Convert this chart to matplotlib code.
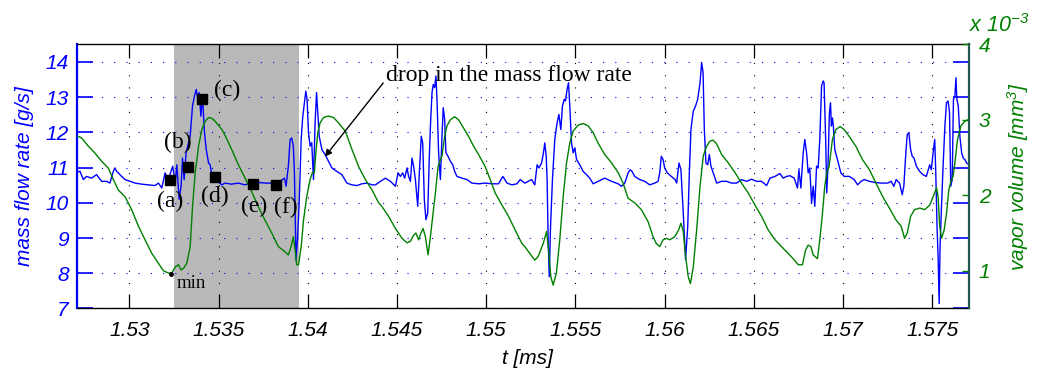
import matplotlib
matplotlib.use("Agg")
import matplotlib.pyplot as plt
import numpy as np

# ---------------- data ----------------
t_flow = [
    1.52704, 1.52723, 1.52742, 1.52760, 1.52788, 1.52816, 1.52845, 1.52873, 1.52891, 1.52910,
    1.52919, 1.52929, 1.52938, 1.52957, 1.52976, 1.53004, 1.53032, 1.53069, 1.53107, 1.53144,
    1.53163, 1.53182, 1.53200, 1.53219, 1.53243, 1.53257, 1.53266, 1.53279, 1.53290, 1.53298,
    1.53307, 1.53318, 1.53341, 1.53354, 1.53365, 1.53375, 1.53384, 1.53391, 1.53401, 1.53410,
    1.53421, 1.53431, 1.53444, 1.53453, 1.53463, 1.53481, 1.53519,
    1.53535, 1.53573, 1.53610, 1.53648, 1.53676, 1.53723, 1.53760, 1.53798, 1.53845, 1.53869,
    1.53878, 1.53891, 1.53901, 1.53910, 1.53919, 1.53925, 1.53929, 1.53934, 1.53942, 1.53951,
    1.53963, 1.53972, 1.53981, 1.53989, 1.53996, 1.54004, 1.54013, 1.54022, 1.54032, 1.54041,
    1.54049, 1.54056, 1.54064, 1.54079, 1.54097, 1.54116, 1.54135, 1.54163, 1.54191, 1.54219,
    1.54247, 1.54275, 1.54303, 1.54332, 1.54360,
    1.54379, 1.54407, 1.54435, 1.54463, 1.54491, 1.54506, 1.54519, 1.54532, 1.54543, 1.54556,
    1.54565, 1.54575, 1.54584, 1.54593, 1.54603, 1.54616, 1.54625, 1.54636, 1.54644, 1.54653,
    1.54662, 1.54672, 1.54681, 1.54688, 1.54696, 1.54703, 1.54711, 1.54718, 1.54724, 1.54733,
    1.54743, 1.54752, 1.54759, 1.54767, 1.54774, 1.54786, 1.54799, 1.54812, 1.54823, 1.54836,
    1.54864, 1.54892, 1.54920, 1.54957, 1.54994, 1.55032, 1.55069, 1.55093, 1.55116, 1.55144,
    1.55172, 1.55190,
    1.55216, 1.55235, 1.55254, 1.55272, 1.55285, 1.55295, 1.55310, 1.55319, 1.55328, 1.55336,
    1.55341, 1.55347, 1.55353, 1.55360, 1.55371, 1.55384, 1.55397, 1.55407, 1.55418, 1.55427,
    1.55437, 1.55444, 1.55453, 1.55461, 1.55468, 1.55478, 1.55487, 1.55496, 1.55506, 1.55524,
    1.55543, 1.55562, 1.55580, 1.55599, 1.55627, 1.55664, 1.55702, 1.55739, 1.55758, 1.55776,
    1.55795, 1.55806, 1.55817, 1.55832, 1.55860, 1.55888, 1.55916, 1.55944, 1.55963, 1.55972,
    1.55981, 1.55991, 1.56000, 1.56015, 1.56037,
    1.56058, 1.56067, 1.56080, 1.56091, 1.56104, 1.56117, 1.56129, 1.56138, 1.56147, 1.56160,
    1.56173, 1.56185, 1.56198, 1.56207, 1.56215, 1.56222, 1.56231, 1.56241, 1.56250, 1.56259,
    1.56272, 1.56291, 1.56319, 1.56347, 1.56375, 1.56403, 1.56431, 1.56459, 1.56487, 1.56515,
    1.56543, 1.56571, 1.56590, 1.56618, 1.56646, 1.56664, 1.56683, 1.56702, 1.56726, 1.56744,
    1.56752, 1.56763, 1.56776, 1.56785, 1.56795, 1.56804, 1.56813, 1.56823, 1.56832, 1.56841,
    1.56851, 1.56860, 1.56869, 1.56879, 1.56888,
    1.56893, 1.56902, 1.56908, 1.56915, 1.56923, 1.56929, 1.56934, 1.56940, 1.56945, 1.56953,
    1.56968, 1.56987, 1.57006, 1.57034, 1.57062, 1.57081, 1.57100, 1.57118, 1.57147, 1.57175,
    1.57212, 1.57250, 1.57269, 1.57284, 1.57297, 1.57316, 1.57331, 1.57340, 1.57350, 1.57359,
    1.57368, 1.57378, 1.57387, 1.57397, 1.57410, 1.57429, 1.57447, 1.57466, 1.57485, 1.57494,
    1.57504, 1.57513, 1.57519, 1.57526, 1.57532, 1.57538, 1.57543, 1.57551, 1.57560, 1.57570,
    1.57579, 1.57588, 1.57596, 1.57603, 1.57611, 1.57618, 1.57626, 1.57632, 1.57637, 1.57645,
    1.57654, 1.57664, 1.57673, 1.57682, 1.57692, 1.57707,
]
mass_flow = [
    10.85, 10.90, 10.66, 10.75, 10.70, 10.80, 10.61, 10.61, 10.56, 10.89,
    10.99, 10.89, 10.85, 10.75, 10.66, 10.61, 10.56, 10.53, 10.51, 10.49,
    10.56, 10.42, 10.85, 10.66, 11.04, 10.56, 11.08, 10.10, 10.47, 11.27,
    10.66, 11.42, 11.90, 12.75, 13.03, 13.22, 12.94, 13.13, 12.46, 13.03,
    11.99, 11.51, 11.13, 11.08, 10.75, 10.66, 10.51,
    10.56, 10.53, 10.56, 10.51, 10.56, 10.58, 10.56, 10.56, 10.61, 10.70,
    10.47, 11.04, 11.80, 11.84, 11.61, 10.85, 9.71, 8.38, 8.95, 9.90,
    11.80, 12.46, 12.84, 13.17, 12.94, 11.99, 11.61, 11.71, 10.66, 12.27,
    13.13, 12.56, 11.89, 11.51, 11.37, 11.18, 10.99, 10.89, 10.80, 10.56,
    10.51, 10.49, 10.54, 10.56, 10.51,
    10.51, 10.61, 10.70, 10.61, 10.47, 10.85, 10.75, 10.85, 10.70, 10.99,
    10.75, 10.61, 11.27, 11.04, 10.66, 9.90, 10.85, 11.89, 11.70, 10.09,
    9.52, 9.71, 11.32, 12.27, 13.13, 13.36, 13.27, 13.60, 12.94, 11.42,
    10.66, 11.89, 12.70, 12.37, 11.42, 11.32, 11.18, 11.08, 10.89, 10.75,
    10.70, 10.66, 10.56, 10.54, 10.56, 10.54, 10.54, 10.75, 10.56, 10.51,
    10.54, 10.66,
    10.56, 10.61, 10.66, 10.51, 11.08, 10.99, 11.13, 11.37, 11.70, 11.32,
    10.66, 8.95, 7.90, 9.29, 10.66, 11.80, 12.27, 12.51, 12.08, 12.75,
    12.94, 12.89, 13.22, 13.41, 12.75, 11.70, 11.42, 11.56, 11.23, 11.08,
    10.89, 10.80, 10.70, 10.54, 10.61, 10.70, 10.61, 10.54, 10.47, 10.56,
    10.85, 10.94, 10.89, 10.75, 10.66, 10.61, 10.51, 10.56, 10.61, 10.85,
    11.32, 11.23, 10.99, 10.85, 10.75,
    10.66, 10.56, 11.13, 10.94, 9.71, 8.38, 9.33, 10.85, 12.08, 12.60,
    12.75, 12.94, 13.41, 13.98, 13.70, 12.08, 11.13, 11.08, 11.37, 11.04,
    10.85, 10.56, 10.61, 10.61, 10.56, 10.56, 10.66, 10.61, 10.67, 10.61,
    10.61, 10.49, 10.70, 10.75, 10.83, 10.70, 10.75, 10.77, 10.70, 10.42,
    10.94, 10.42, 11.42, 11.80, 11.42, 10.85, 10.99, 9.99, 10.47, 9.90,
    11.04, 10.99, 11.80, 13.32, 13.46,
    13.41, 11.80, 10.28, 11.04, 12.56, 12.84, 12.18, 12.41, 12.18, 11.51,
    11.23, 10.85, 10.75, 10.75, 10.66, 10.51, 10.61, 10.66, 10.61, 10.58,
    10.56, 10.56, 10.61, 10.47, 10.66, 10.56, 10.23, 10.47, 11.32, 11.94,
    11.99, 11.51, 11.32, 11.27, 11.04, 10.89, 10.80, 10.75, 11.08, 10.94,
    11.42, 11.80, 10.85, 9.33, 8.48, 7.14, 8.76, 9.90, 11.04, 12.18,
    12.84, 12.89, 12.56, 10.47, 10.66, 12.94, 13.03, 13.55, 12.94, 12.75,
    11.89, 11.42, 11.27, 11.23, 11.13, 11.08,
]

t_vapor = [
    1.52704, 1.52732, 1.52770, 1.52807, 1.52845, 1.52882, 1.52910, 1.52938, 1.52976, 1.53013,
    1.53051, 1.53088, 1.53126, 1.53163, 1.53191, 1.53219, 1.53238, 1.53257, 1.53275, 1.53290,
    1.53303, 1.53322, 1.53341, 1.53354, 1.53369, 1.53388, 1.53406, 1.53425, 1.53444, 1.53463,
    1.53481, 1.53519,
    1.53535, 1.53573, 1.53610, 1.53648, 1.53685, 1.53723, 1.53760, 1.53798, 1.53835, 1.53863,
    1.53891, 1.53906, 1.53919, 1.53929, 1.53938, 1.53948, 1.53963, 1.53976, 1.53994, 1.54013,
    1.54026, 1.54037, 1.54045, 1.54056, 1.54069, 1.54088, 1.54116, 1.54144, 1.54172, 1.54210,
    1.54247, 1.54285, 1.54322, 1.54360, 1.54397,
    1.54416, 1.54453, 1.54491, 1.54528, 1.54556, 1.54575, 1.54593, 1.54606, 1.54621, 1.54634,
    1.54646, 1.54659, 1.54674, 1.54687, 1.54700, 1.54715, 1.54730, 1.54743, 1.54752, 1.54767,
    1.54780, 1.54799, 1.54823, 1.54845, 1.54873, 1.54901, 1.54929, 1.54957, 1.54994, 1.55022,
    1.55050, 1.55088, 1.55125, 1.55162, 1.55200,
    1.55216, 1.55244, 1.55272, 1.55291, 1.55319, 1.55338, 1.55351, 1.55362, 1.55375, 1.55393,
    1.55412, 1.55431, 1.55450, 1.55468, 1.55487, 1.55515, 1.55543, 1.55571, 1.55599, 1.55627,
    1.55664, 1.55702, 1.55739, 1.55767, 1.55795, 1.55832, 1.55869, 1.55907, 1.55935, 1.55953,
    1.55972, 1.55991, 1.56009, 1.56028, 1.56056, 1.56078,
    1.56091, 1.56104, 1.56117, 1.56132, 1.56144, 1.56160, 1.56179, 1.56198, 1.56216, 1.56235,
    1.56254, 1.56272, 1.56291, 1.56319, 1.56356, 1.56394, 1.56431, 1.56468, 1.56506, 1.56543,
    1.56580, 1.56618, 1.56655, 1.56692, 1.56720, 1.56748, 1.56772, 1.56789, 1.56804, 1.56819,
    1.56832, 1.56856, 1.56869, 1.56884, 1.56897, 1.56908,
    1.56921, 1.56940, 1.56959, 1.56983, 1.57006, 1.57034, 1.57071, 1.57109, 1.57147, 1.57184,
    1.57222, 1.57259, 1.57297, 1.57325, 1.57344, 1.57359, 1.57378, 1.57400, 1.57429, 1.57457,
    1.57485, 1.57504, 1.57523, 1.57532, 1.57541, 1.57551, 1.57566, 1.57579, 1.57592, 1.57603,
    1.57616, 1.57626, 1.57641, 1.57660, 1.57682, 1.57707,
]
# vapor volume in units of 1e-3 mm^3
vapor_volume = [
    2.79, 2.76, 2.65, 2.56, 2.45, 2.36, 2.21, 2.07, 1.98, 1.81,
    1.59, 1.41, 1.23, 1.10, 1.00, 0.97, 0.97, 1.05, 1.08, 1.01,
    1.03, 1.10, 1.32, 1.85, 2.30, 2.65, 2.87, 2.98, 3.03, 3.02,
    2.98, 2.87,
    2.80, 2.61, 2.41, 2.23, 2.05, 1.85, 1.67, 1.50, 1.32, 1.27,
    1.21, 1.32, 1.45, 1.27, 1.08, 1.08, 1.32, 1.67, 1.98, 2.21,
    2.30, 2.30, 2.56, 2.83, 2.96, 3.03, 3.05, 3.03, 2.96, 2.85,
    2.61, 2.38, 2.21, 2.07, 1.90,
    1.85, 1.72, 1.56, 1.43, 1.37, 1.39, 1.47, 1.50, 1.41, 1.50,
    1.56, 1.45, 1.21, 1.45, 1.72, 2.03, 2.38, 2.47, 2.52, 2.78,
    2.92, 3.00, 3.04, 3.00, 2.89, 2.78, 2.65, 2.54, 2.38, 2.21,
    2.03, 1.87, 1.72, 1.54, 1.36,
    1.32, 1.23, 1.14, 1.19, 1.36, 1.52, 1.23, 0.92, 0.81, 0.97,
    1.41, 1.98, 2.43, 2.69, 2.85, 2.93, 2.95, 2.92, 2.83, 2.69,
    2.54, 2.43, 2.30, 2.16, 1.96, 1.90, 1.81, 1.65, 1.45, 1.36,
    1.32, 1.41, 1.43, 1.41, 1.45, 1.54,
    1.63, 1.52, 1.19, 0.92, 0.83, 1.05, 1.54, 2.12, 2.52, 2.65,
    2.72, 2.73, 2.68, 2.54, 2.43, 2.30, 2.16, 2.03, 1.87, 1.72,
    1.54, 1.41, 1.32, 1.23, 1.16, 1.08, 1.08, 1.27, 1.34, 1.32,
    1.21, 1.16, 1.41, 1.76, 2.12, 2.30,
    2.38, 2.74, 2.87, 2.91, 2.87, 2.78, 2.65, 2.47, 2.34, 2.16,
    1.98, 1.83, 1.67, 1.59, 1.43, 1.50, 1.72, 1.81, 1.83, 1.81,
    1.87, 1.98, 2.10, 1.98, 1.59, 1.43, 1.54, 1.76, 2.07, 2.18,
    2.25, 2.43, 2.74, 2.92, 2.98, 3.01,
]

# marked instants (a)-(f) on the mass flow rate curve
marker_labels = ["(a)", "(b)", "(c)", "(d)", "(e)", "(f)"]
marker_t = [1.53229, 1.53328, 1.53406, 1.53481, 1.53695, 1.53820]
marker_m = [10.66, 11.02, 12.94, 10.73, 10.54, 10.52]
min_t = 1.53232
min_v = 0.96

shade_t = (1.53253, 1.53949)

x_ticks = [1.53, 1.535, 1.54, 1.545, 1.55, 1.555, 1.56, 1.565, 1.57, 1.575]
x_tick_labels = ["1.53", "1.535", "1.54", "1.545", "1.55", "1.555", "1.56", "1.565", "1.57", "1.575"]
left_ticks = [7, 8, 9, 10, 11, 12, 13, 14]
right_ticks = [1, 2, 3, 4]

# ---------------- style ----------------
BLUE = (0, 0, 1)
GREEN = (0, 0.5, 0)
plt.rcParams["font.family"] = ["Liberation Sans", "DejaVu Sans"]
plt.rcParams["font.style"] = "italic"
plt.rcParams["mathtext.fontset"] = "custom"
plt.rcParams["mathtext.rm"] = "Liberation Sans:italic"
plt.rcParams["mathtext.it"] = "Liberation Sans:italic"
plt.rcParams["mathtext.default"] = "rm"

fig = plt.figure(figsize=(10.37, 3.72), dpi=100)
ax1 = fig.add_axes([0.0743, 0.1707, 0.8601, 0.7102])
ax2 = ax1.twinx()

ax1.axvspan(shade_t[0], shade_t[1], color="#b9b9b9", lw=0, zorder=1)
ax1.plot(t_flow, mass_flow, color=BLUE, lw=1.0, zorder=3)
ax2.plot(t_vapor, vapor_volume, color=GREEN, lw=1.0, zorder=3)

ax1.set_xlim(1.52707, 1.57705)
ax1.set_ylim(7, 14.5)
ax2.set_ylim(0.5, 4.0)

dots = (0, (1, 10))
ax1.set_xticks(x_ticks)
ax1.set_xticklabels(x_tick_labels)
ax1.set_yticks(left_ticks)
ax1.set_yticklabels([str(v) for v in left_ticks])
ax1.xaxis.grid(True, color="black", linestyle=dots, lw=0.8)
ax1.yaxis.grid(True, color=BLUE, linestyle=dots, lw=0.8)
ax1.tick_params(axis="x", direction="in", length=10, width=0.9, top=True,
                labelsize=15, pad=9, colors="black")
ax1.tick_params(axis="y", direction="in", length=11.5, width=1.2, right=True,
                labelsize=15, pad=6, colors=BLUE)

ax2.set_yticks(right_ticks)
ax2.set_yticklabels([str(v) for v in right_ticks])
ax2.tick_params(axis="y", direction="in", length=5, width=1.0, labelsize=15,
                pad=7, colors=GREEN)
ax2.tick_params(axis="x", bottom=False, top=False, labelbottom=False)

for s in ["top", "bottom"]:
    ax1.spines[s].set_color("black")
    ax1.spines[s].set_linewidth(1.0)
ax1.spines["left"].set_color(BLUE)
ax1.spines["left"].set_linewidth(1.6)
ax1.spines["right"].set_visible(False)
for s in ["top", "bottom", "left"]:
    ax2.spines[s].set_visible(False)
ax2.spines["right"].set_color("#1f5a50")
ax2.spines["right"].set_linewidth(1.6)

ax1.set_ylabel("mass flow rate [g/s]", color=BLUE, fontsize=15)
ax1.yaxis.set_label_coords(-0.048, 0.5)
ax1.set_xlabel("t [ms]", fontsize=15)
ax1.xaxis.set_label_coords(0.505, -0.155)
ax2.set_ylabel("vapor volume [mm$^3$]", color=GREEN, fontsize=15)
ax2.yaxis.set_label_coords(1.041, 0.5)
ax2.text(1.0, 1.045, "x 10$^{-3}$", transform=ax2.transAxes, color=GREEN,
         fontsize=15.5, ha="left", va="baseline")

# annotations drawn on top of both curves, in mass-flow coordinates
serif = ["Liberation Serif", "DejaVu Serif"]
ax2.plot(marker_t, marker_m, "s", color="black", ms=7.5, transform=ax1.transData, zorder=5)
label_pos = [(1.53228, 10.03), (1.53274, 11.71), (1.53547, 13.19),
             (1.53480, 10.17), (1.53700, 9.91), (1.53879, 9.88)]
for lab, (tx, ty) in zip(marker_labels, label_pos):
    ax2.text(tx, ty, lab, transform=ax1.transData, family=serif, style="normal",
             fontsize=17, ha="center", va="center", color="black", zorder=6)
ax2.plot([min_t], [min_v], "o", color="black", ms=2.5, zorder=5)
ax2.text(1.53346, 7.72, "min", transform=ax1.transData, family=serif, style="normal",
         fontsize=13.5, ha="center", va="center", color="black", zorder=6)

ax2.annotate("drop in the mass flow rate", xy=(1.54096, 11.31), xycoords=ax1.transData,
             xytext=(1.54438, 13.62), textcoords=ax1.transData,
             family=serif, style="normal", fontsize=17, ha="left", va="center",
             arrowprops=dict(arrowstyle="-|>", color="black", lw=1.0, shrinkA=0, shrinkB=0,
                             relpos=(0, 0.3), mutation_scale=10),
             zorder=6)

fig.savefig("out.png", dpi=100)
